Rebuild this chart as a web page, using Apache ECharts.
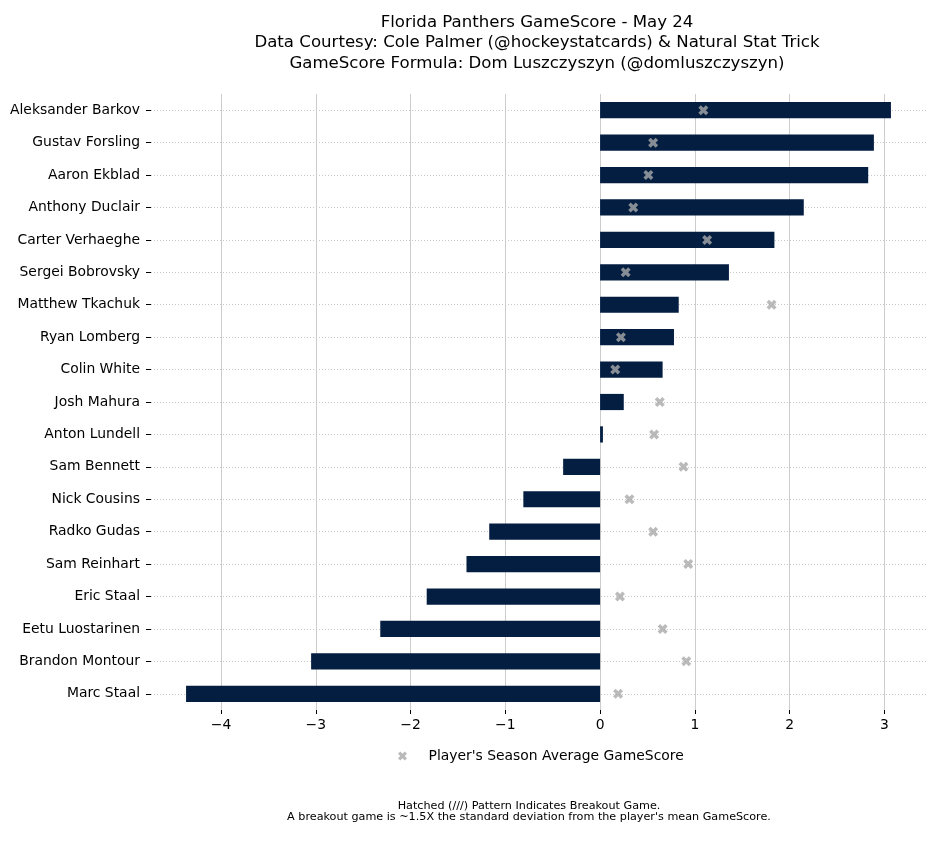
<!DOCTYPE html>
<html>
<head>
<meta charset="utf-8">
<title>Florida Panthers GameScore</title>
<script src="https://cdn.jsdelivr.net/npm/echarts@6/dist/echarts.min.js"></script>
<style>
  html, body { margin: 0; padding: 0; background: #fff; }
  #chart { width: 935px; height: 842px; }
</style>
</head>
<body>
<div id="chart"></div>
<script>
  // players, top to bottom
  const players = [
    'Aleksander Barkov', 'Gustav Forsling', 'Aaron Ekblad', 'Anthony Duclair',
    'Carter Verhaeghe', 'Sergei Bobrovsky', 'Matthew Tkachuk', 'Ryan Lomberg',
    'Colin White', 'Josh Mahura', 'Anton Lundell', 'Sam Bennett',
    'Nick Cousins', 'Radko Gudas', 'Sam Reinhart', 'Eric Staal',
    'Eetu Luostarinen', 'Brandon Montour', 'Marc Staal'
  ]
  // game score for May 24
  const gameScores = [
    3.07, 2.89, 2.83, 2.15, 1.84, 1.36, 0.83, 0.78, 0.66, 0.25,
    0.03, -0.39, -0.81, -1.17, -1.41, -1.83, -2.32, -3.05, -4.37
  ]
  // season average game score
  const seasonAvg = [
    1.09, 0.56, 0.51, 0.35, 1.13, 0.27, 1.81, 0.22, 0.16, 0.63,
    0.57, 0.88, 0.31, 0.56, 0.93, 0.21, 0.66, 0.91, 0.19
  ]
  const xTicks = [-4, -3, -2, -1, 0, 1, 2, 3]

  const titleText = 'Florida Panthers GameScore - May 24\n' +
    'Data Courtesy: Cole Palmer (@hockeystatcards) & Natural Stat Trick\n' +
    'GameScore Formula: Dom Luszczyszyn (@domluszczyszyn)'
  const noteText = 'Hatched (///) Pattern Indicates Breakout Game.\n' +
    'A breakout game is ~1.5X the standard deviation from the player\'s mean GameScore.'
  const avgName = 'Player\'s Season Average GameScore'

  // matplotlib style filled "X" marker
  const xMarker = 'path://M2.5,0 L5,2.5 L7.5,0 L10,2.5 L7.5,5 L10,7.5 L7.5,10 L5,7.5 L2.5,10 L0,7.5 L2.5,5 L0,2.5 Z'
  const font = 'DejaVu Sans'

  const chart = echarts.init(document.getElementById('chart'))

  chart.setOption({
    animation: false,
    textStyle: { fontFamily: font },
    title: [
      {
        text: titleText,
        left: 532,
        top: 7,
        textAlign: 'center',
        textStyle: { fontFamily: font, fontSize: 16.6, fontWeight: 'normal', color: '#000', lineHeight: 20.5 }
      },
      {
        text: noteText,
        left: 524,
        top: 795,
        textAlign: 'center',
        textStyle: { fontFamily: font, fontSize: 11.2, fontWeight: 'normal', color: '#000', lineHeight: 11.5 }
      }
    ],
    legend: {
      data: [avgName],
      left: 393,
      top: 744,
      icon: xMarker,
      itemWidth: 42,
      itemHeight: 9,
      textStyle: { fontFamily: font, fontSize: 13.9, color: '#000' }
    },
    grid: {
      left: 151,
      right: 9,
      top: 94,
      bottom: 132
    },
    xAxis: {
      type: 'value',
      min: -4.74,
      max: 3.44,
      axisLine: { show: false },
      axisTick: { show: true, customValues: xTicks, length: 4, lineStyle: { color: '#000' } },
      axisLabel: {
        customValues: xTicks,
        margin: 8,
        fontSize: 13.9,
        color: '#000',
        formatter: v => String(v).replace('-', '\u2212')
      },
      splitLine: { show: true, lineStyle: { color: '#cccccc', width: 1 } }
    },
    yAxis: {
      type: 'category',
      data: players,
      inverse: true,
      axisLine: { show: false, onZero: false },
      axisTick: { show: true, alignWithLabel: true, length: 5, lineStyle: { color: '#000' } },
      axisLabel: { margin: 11, fontSize: 13.9, color: '#000' },
      splitLine: { show: false }
    },
    series: [
      {
        name: 'GameScore',
        type: 'bar',
        data: gameScores,
        barWidth: '50%',
        itemStyle: { color: '#041e42' },
        z: 2,
        markLine: {
          silent: true,
          symbol: 'none',
          z: 1,
          label: { show: false },
          lineStyle: { color: '#c8c8c8', type: [1, 2], width: 1 },
          data: players.map(p => ({ yAxis: p }))
        }
      },
      {
        name: avgName,
        type: 'scatter',
        data: seasonAvg,
        symbol: xMarker,
        symbolSize: 10,
        itemStyle: { color: '#a9a9a9' },
        z: 3
      }
    ]
  })
</script>
</body>
</html>
